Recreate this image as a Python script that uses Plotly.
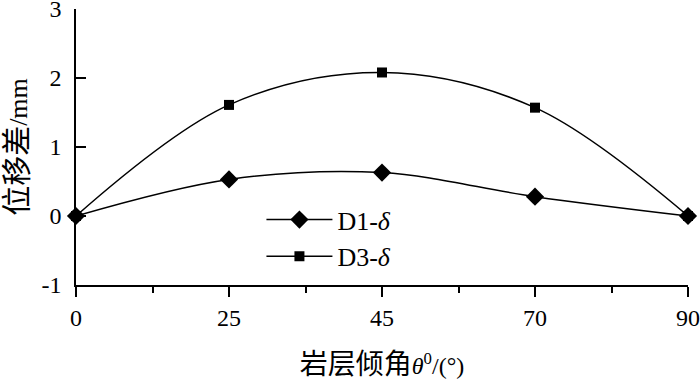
import plotly.graph_objects as go

angles = ["0", "25", "45", "70", "90"]
d1_delta = [0, 0.53, 0.63, 0.28, 0]
d3_delta = [0, 1.61, 2.08, 1.57, 0]
y_ticks = [-1, 0, 1, 2, 3]

pos = list(range(len(angles)))
FONT = "Liberation Serif, Times New Roman, Noto Sans CJK SC"

fig = go.Figure()
fig.add_trace(go.Scatter(
    x=pos, y=d1_delta, name="D1-<i>δ</i>", mode="lines+markers",
    line=dict(color="black", width=1.5, shape="spline"),
    marker=dict(symbol="diamond", size=14, color="black"),
    cliponaxis=False))
fig.add_trace(go.Scatter(
    x=pos, y=d3_delta, name="D3-<i>δ</i>", mode="lines+markers",
    line=dict(color="black", width=1.5, shape="spline"),
    marker=dict(symbol="square", size=10, color="black"),
    cliponaxis=False))

fig.update_layout(
    width=700, height=382,
    margin=dict(l=76, r=12, t=9, b=97),
    paper_bgcolor="white", plot_bgcolor="white",
    font=dict(family=FONT, size=24, color="black"),
    showlegend=True,
    legend=dict(x=0.303, y=0.322, xanchor="left", yanchor="top",
                bgcolor="rgba(0,0,0,0)", font=dict(size=26),
                itemwidth=66, tracegroupgap=0),
)
fig.update_xaxes(
    range=[0, 4], tickvals=pos, ticktext=angles, automargin=False,
    showline=True, linecolor="black", linewidth=1.5,
    ticks="outside", ticklen=10, tickwidth=1.5, tickcolor="black",
    minor=dict(dtick=0.5, ticks="outside", ticklen=6, tickwidth=1.5, tickcolor="black"),
    showgrid=False, zeroline=False, ticklabeloverflow="allow",
    tickfont=dict(size=24),
    title=dict(text="<span style='font-size:28px'>岩层倾角</span><i>θ</i><sup>0</sup>/(°)",
               font=dict(size=24), standoff=28),
)
fig.update_yaxes(
    range=[-1, 3], tickvals=y_ticks, ticktext=[str(v) for v in y_ticks], automargin=False,
    showline=True, linecolor="black", linewidth=1.5,
    ticks="inside", ticklen=10, tickwidth=1.5, tickcolor="black",
    showgrid=False, zeroline=False, ticklabeloverflow="allow",
    ticklabelstandoff=8, tickfont=dict(size=24),
    title=dict(text="<span style='font-size:30px'>位移差</span>/mm",
               font=dict(size=26), standoff=6),
)

fig.write_html("out.html", config={"displayModeBar": False},
               post_script="document.body.style.margin='0';document.body.style.overflow='hidden';")
